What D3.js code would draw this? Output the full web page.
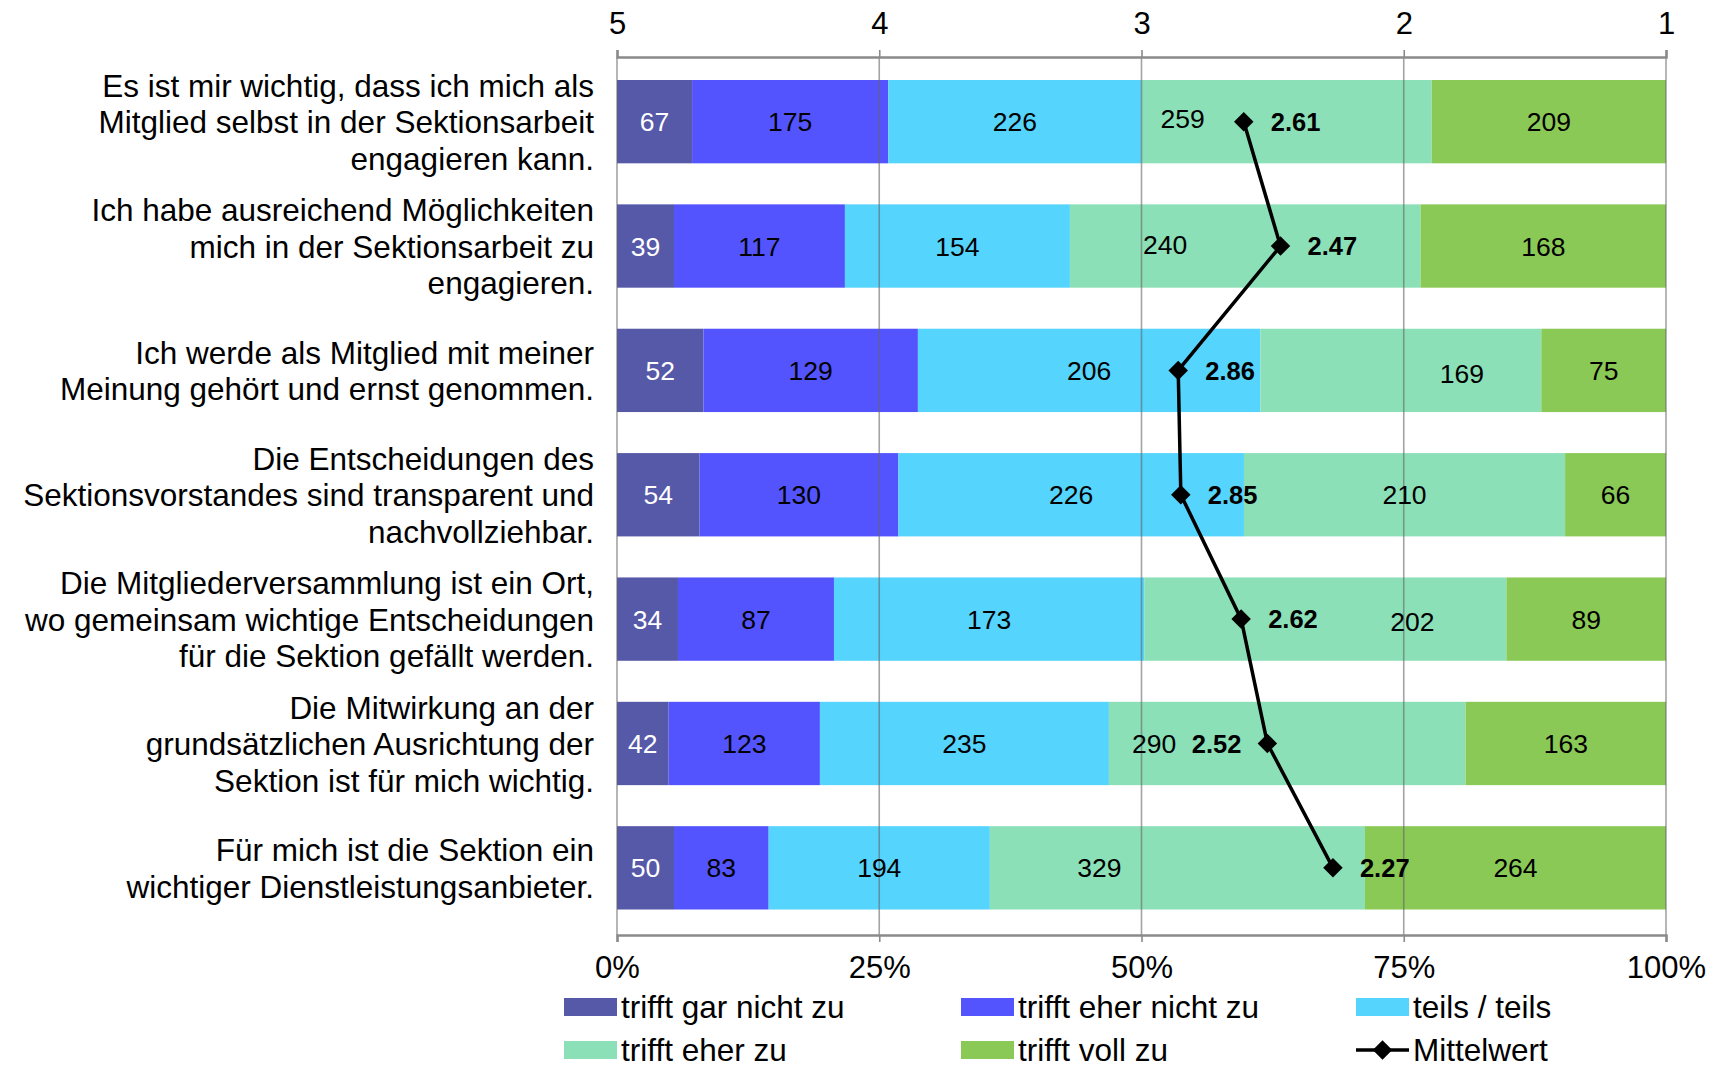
<!DOCTYPE html>
<html>
<head>
<meta charset="utf-8">
<script src="https://cdn.jsdelivr.net/npm/d3@7"></script>
<style>
  body { margin: 0; background: #fff; }
  svg text { font-family: "Liberation Sans", Arial, sans-serif; }
</style>
</head>
<body>
<svg id="chart"></svg>
<script>
var categories = [
  "Es ist mir wichtig, dass ich mich als\nMitglied selbst in der Sektionsarbeit\nengagieren kann.",
  "Ich habe ausreichend Möglichkeiten\nmich in der Sektionsarbeit zu\nengagieren.",
  "Ich werde als Mitglied mit meiner\nMeinung gehört und ernst genommen.",
  "Die Entscheidungen des\nSektionsvorstandes sind transparent und\nnachvollziehbar.",
  "Die Mitgliederversammlung ist ein Ort,\nwo gemeinsam wichtige Entscheidungen\nfür die Sektion gefällt werden.",
  "Die Mitwirkung an der\ngrundsätzlichen Ausrichtung der\nSektion ist für mich wichtig.",
  "Für mich ist die Sektion ein\nwichtiger Dienstleistungsanbieter."
];
var seriesNames = ["trifft gar nicht zu", "trifft eher nicht zu", "teils / teils", "trifft eher zu", "trifft voll zu"];
var garNicht  = [67, 39, 52, 54, 34, 42, 50];
var eherNicht = [175, 117, 129, 130, 87, 123, 83];
var teils     = [226, 154, 206, 226, 173, 235, 194];
var eherZu    = [259, 240, 169, 210, 202, 290, 329];
var vollZu    = [209, 168, 75, 66, 89, 163, 264];
var mittelwert = [2.61, 2.47, 2.86, 2.85, 2.62, 2.52, 2.27];
var meanTicks = [5, 4, 3, 2, 1];
var pctTicks = [0, 0.25, 0.5, 0.75, 1];

var colors = ["#5658a8", "#5454fe", "#55d4fe", "#8ce0b8", "#8bc956"];

// hand-placed labels, like in the original spreadsheet (px nudges)
var eherZuNudgeX = [-104, -80, 61, 0, 87, -133, -78];
var eherZuNudgeY = [-3, -2, 3, 0, 2, 0, 0];
var meanLabelLeft = [false, false, false, false, false, true, false];

var W = 1718, H = 1068;
var plotL = 617, plotR = 1666, plotT = 57, plotB = 935;

var svg = d3.select("#chart").attr("width", W).attr("height", H);

var rows = categories.map(function(c, i) {
  return { cat: c, s0: garNicht[i], s1: eherNicht[i], s2: teils[i], s3: eherZu[i], s4: vollZu[i], mean: mittelwert[i] };
});
var keys = ["s0", "s1", "s2", "s3", "s4"];
var series = d3.stack().keys(keys).offset(d3.stackOffsetExpand)(rows);

var x = d3.scaleLinear().domain([0, 1]).range([plotL, plotR]);
var xm = d3.scaleLinear().domain([5, 1]).range([plotL, plotR]);
var y = d3.scaleBand().domain(d3.range(rows.length)).range([55.75, 933.75])
  .paddingInner(0.33).paddingOuter(0.195);
function cy(i) { return y(i) + y.bandwidth() / 2; }

// bars
svg.append("g").selectAll("g")
  .data(series)
  .enter().append("g")
    .attr("fill", function(d, i) { return colors[i]; })
  .selectAll("rect")
  .data(function(d) { return d; })
  .enter().append("rect")
    .attr("x", function(d) { return x(d[0]); })
    .attr("y", function(d, j) { return y(j); })
    .attr("width", function(d) { return x(d[1]) - x(d[0]); })
    .attr("height", y.bandwidth());

// grid lines over the bars
svg.append("g").selectAll("line")
  .data(pctTicks)
  .enter().append("line")
    .attr("x1", function(d) { return x(d); })
    .attr("x2", function(d) { return x(d); })
    .attr("y1", plotT).attr("y2", plotB)
    .attr("stroke", "#666").attr("stroke-opacity", 0.6).attr("stroke-width", 1.6);

// top axis (mean scale)
var topAxis = svg.append("g").attr("transform", "translate(0," + plotT + ")")
  .call(d3.axisTop(xm).tickValues(meanTicks).tickFormat(d3.format("d")).tickSize(7).tickPadding(16));
// bottom axis (percent)
var botAxis = svg.append("g").attr("transform", "translate(0," + plotB + ")")
  .call(d3.axisBottom(x).tickValues(pctTicks).tickFormat(d3.format(".0%")).tickSize(7).tickPadding(14));

[topAxis, botAxis].forEach(function(a) {
  a.select(".domain").attr("stroke", "#8a8a8a").attr("stroke-width", 2.5);
  a.selectAll(".tick line").attr("stroke", "#8a8a8a").attr("stroke-width", 1.6);
  a.selectAll(".tick text").attr("fill", "#000").style("font-size", "31px")
    .style("font-family", "'Liberation Sans', Arial, sans-serif");
});

// count labels
series.forEach(function(s, si) {
  svg.append("g").selectAll("text")
    .data(s)
    .enter().append("text")
      .attr("x", function(d, j) { return (x(d[0]) + x(d[1])) / 2 + (si === 3 ? eherZuNudgeX[j] : 0); })
      .attr("y", function(d, j) { return cy(j) + (si === 3 ? eherZuNudgeY[j] : 0); })
      .attr("dy", "0.36em")
      .attr("text-anchor", "middle")
      .attr("fill", si === 0 ? "#fff" : "#000")
      .style("font-size", "26.5px")
      .text(function(d) { return d.data[keys[si]]; });
});

// category labels
svg.append("g").selectAll("text")
  .data(rows)
  .enter().append("text")
    .attr("text-anchor", "end")
    .style("font-size", "31.5px")
    .attr("fill", "#000")
    .each(function(d, i) {
      var lines = d.cat.split("\n");
      var lh = 36.5;
      var t = d3.select(this);
      lines.forEach(function(l, k) {
        t.append("tspan")
          .attr("x", 594)
          .attr("y", cy(i) + (k - (lines.length - 1) / 2) * lh)
          .attr("dy", "0.37em")
          .text(l);
      });
    });

// mean line
var line = d3.line()
  .x(function(d) { return xm(d.mean); })
  .y(function(d, i) { return cy(i); });
svg.append("path").datum(rows)
  .attr("d", line).attr("fill", "none").attr("stroke", "#000").attr("stroke-width", 3.5);

var diamond = d3.symbol().type(d3.symbolSquare).size(190);
svg.append("g").selectAll("path")
  .data(rows)
  .enter().append("path")
    .attr("d", diamond)
    .attr("transform", function(d, i) {
      return "translate(" + xm(d.mean) + "," + cy(i) + ") rotate(45)";
    })
    .attr("fill", "#000");

svg.append("g").selectAll("text")
  .data(rows)
  .enter().append("text")
    .attr("x", function(d, i) { return xm(d.mean) + (meanLabelLeft[i] ? -26 : 27); })
    .attr("y", function(d, i) { return cy(i); })
    .attr("dy", "0.36em")
    .attr("text-anchor", function(d, i) { return meanLabelLeft[i] ? "end" : "start"; })
    .style("font-size", "25.5px").style("font-weight", "bold")
    .text(function(d) { return d.mean.toFixed(2); });

// legend
var legendItems = seriesNames.concat(["Mittelwert"]);
var legendCols = [564, 961, 1356];
var legendRows = [1007, 1050];
var lg = svg.append("g").selectAll("g")
  .data(legendItems)
  .enter().append("g")
    .attr("transform", function(d, i) {
      return "translate(" + legendCols[i % 3] + "," + legendRows[Math.floor(i / 3)] + ")";
    });
lg.each(function(d, i) {
  var g = d3.select(this);
  if (i < 5) {
    g.append("rect").attr("x", 0).attr("y", -9).attr("width", 53).attr("height", 18).attr("fill", colors[i]);
  } else {
    g.append("line").attr("x1", 0).attr("x2", 53).attr("y1", 0).attr("y2", 0)
      .attr("stroke", "#000").attr("stroke-width", 3.5);
    g.append("path").attr("d", diamond).attr("transform", "translate(26.5,0) rotate(45)").attr("fill", "#000");
  }
  g.append("text").attr("x", 57).attr("y", 0).attr("dy", "0.36em")
    .style("font-size", "31.5px").attr("fill", "#000").text(d);
});
</script>
</body>
</html>
